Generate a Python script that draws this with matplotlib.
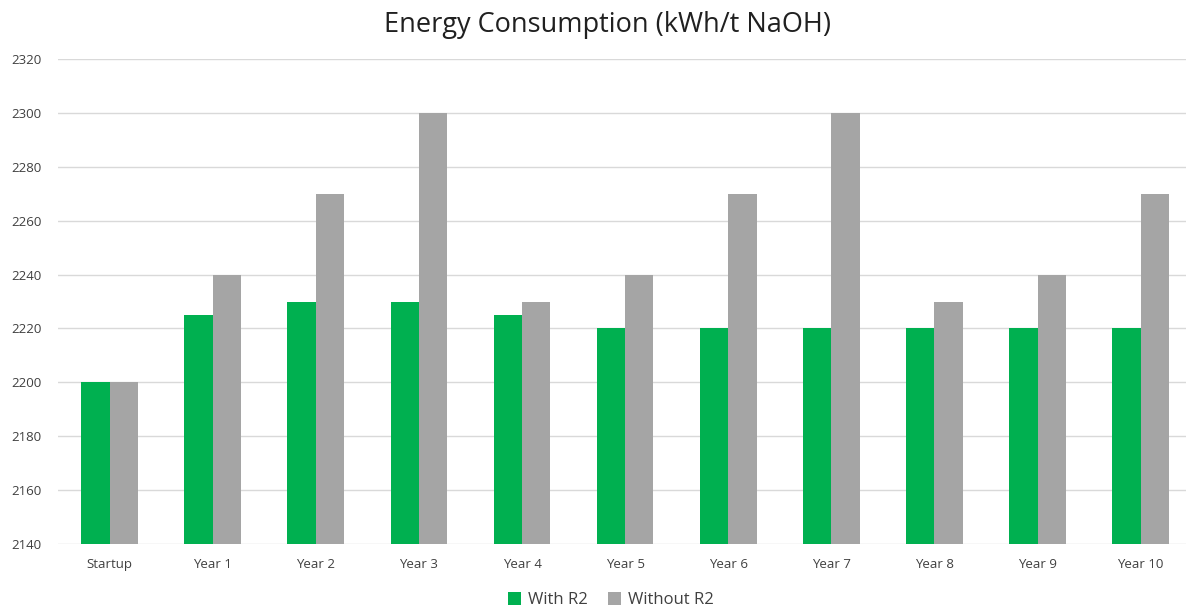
import matplotlib.pyplot as plt
import numpy as np

plt.rcParams['font.family'] = ['Open Sans', 'DejaVu Sans']

# data
categories = ['Startup', 'Year 1', 'Year 2', 'Year 3', 'Year 4', 'Year 5',
              'Year 6', 'Year 7', 'Year 8', 'Year 9', 'Year 10']
with_r2 = [2200, 2225, 2230, 2230, 2225, 2220, 2220, 2220, 2220, 2220, 2220]
without_r2 = [2200, 2240, 2270, 2300, 2230, 2240, 2270, 2300, 2230, 2240, 2270]

fig = plt.figure(figsize=(11.86, 6.08), dpi=100)
ax = fig.add_axes([58 / 1186, 1 - 544 / 608, 1 - 58 / 1186, (544 - 59) / 608])

x = np.arange(len(categories))
w = 0.275
ax.bar(x - w / 2, [v - 2140 for v in with_r2], w, bottom=2140, color='#00B050', label='With R2', zorder=3)
ax.bar(x + w / 2, [v - 2140 for v in without_r2], w, bottom=2140, color='#A5A5A5', label='Without R2', zorder=3)

ax.set_ylim(2140, 2320)
ax.set_yticks(range(2140, 2321, 20))
ax.set_xlim(-0.5, 10.44)
ax.set_xticks(x)
ax.set_xticklabels(categories)
ax.grid(axis='y', color='#D9D9D9', linewidth=1, zorder=0)
ax.tick_params(length=0, labelsize=9.5, colors='#404040')
ax.tick_params(axis='x', pad=10)
ax.tick_params(axis='y', pad=12)
for s in ax.spines.values():
    s.set_visible(False)

fig.text(0.512, 1 - 25 / 608, 'Energy Consumption (kWh/t NaOH)', fontsize=19.5,
         ha='center', va='center', color='#202020')
fig.legend(loc='lower center', ncol=2, frameon=False, fontsize=12,
           bbox_to_anchor=(0.515, -0.025), handlelength=0.8, handleheight=0.8,
           columnspacing=1.2, handletextpad=0.4, labelcolor='#404040')

fig.savefig('out.png', dpi=100)
